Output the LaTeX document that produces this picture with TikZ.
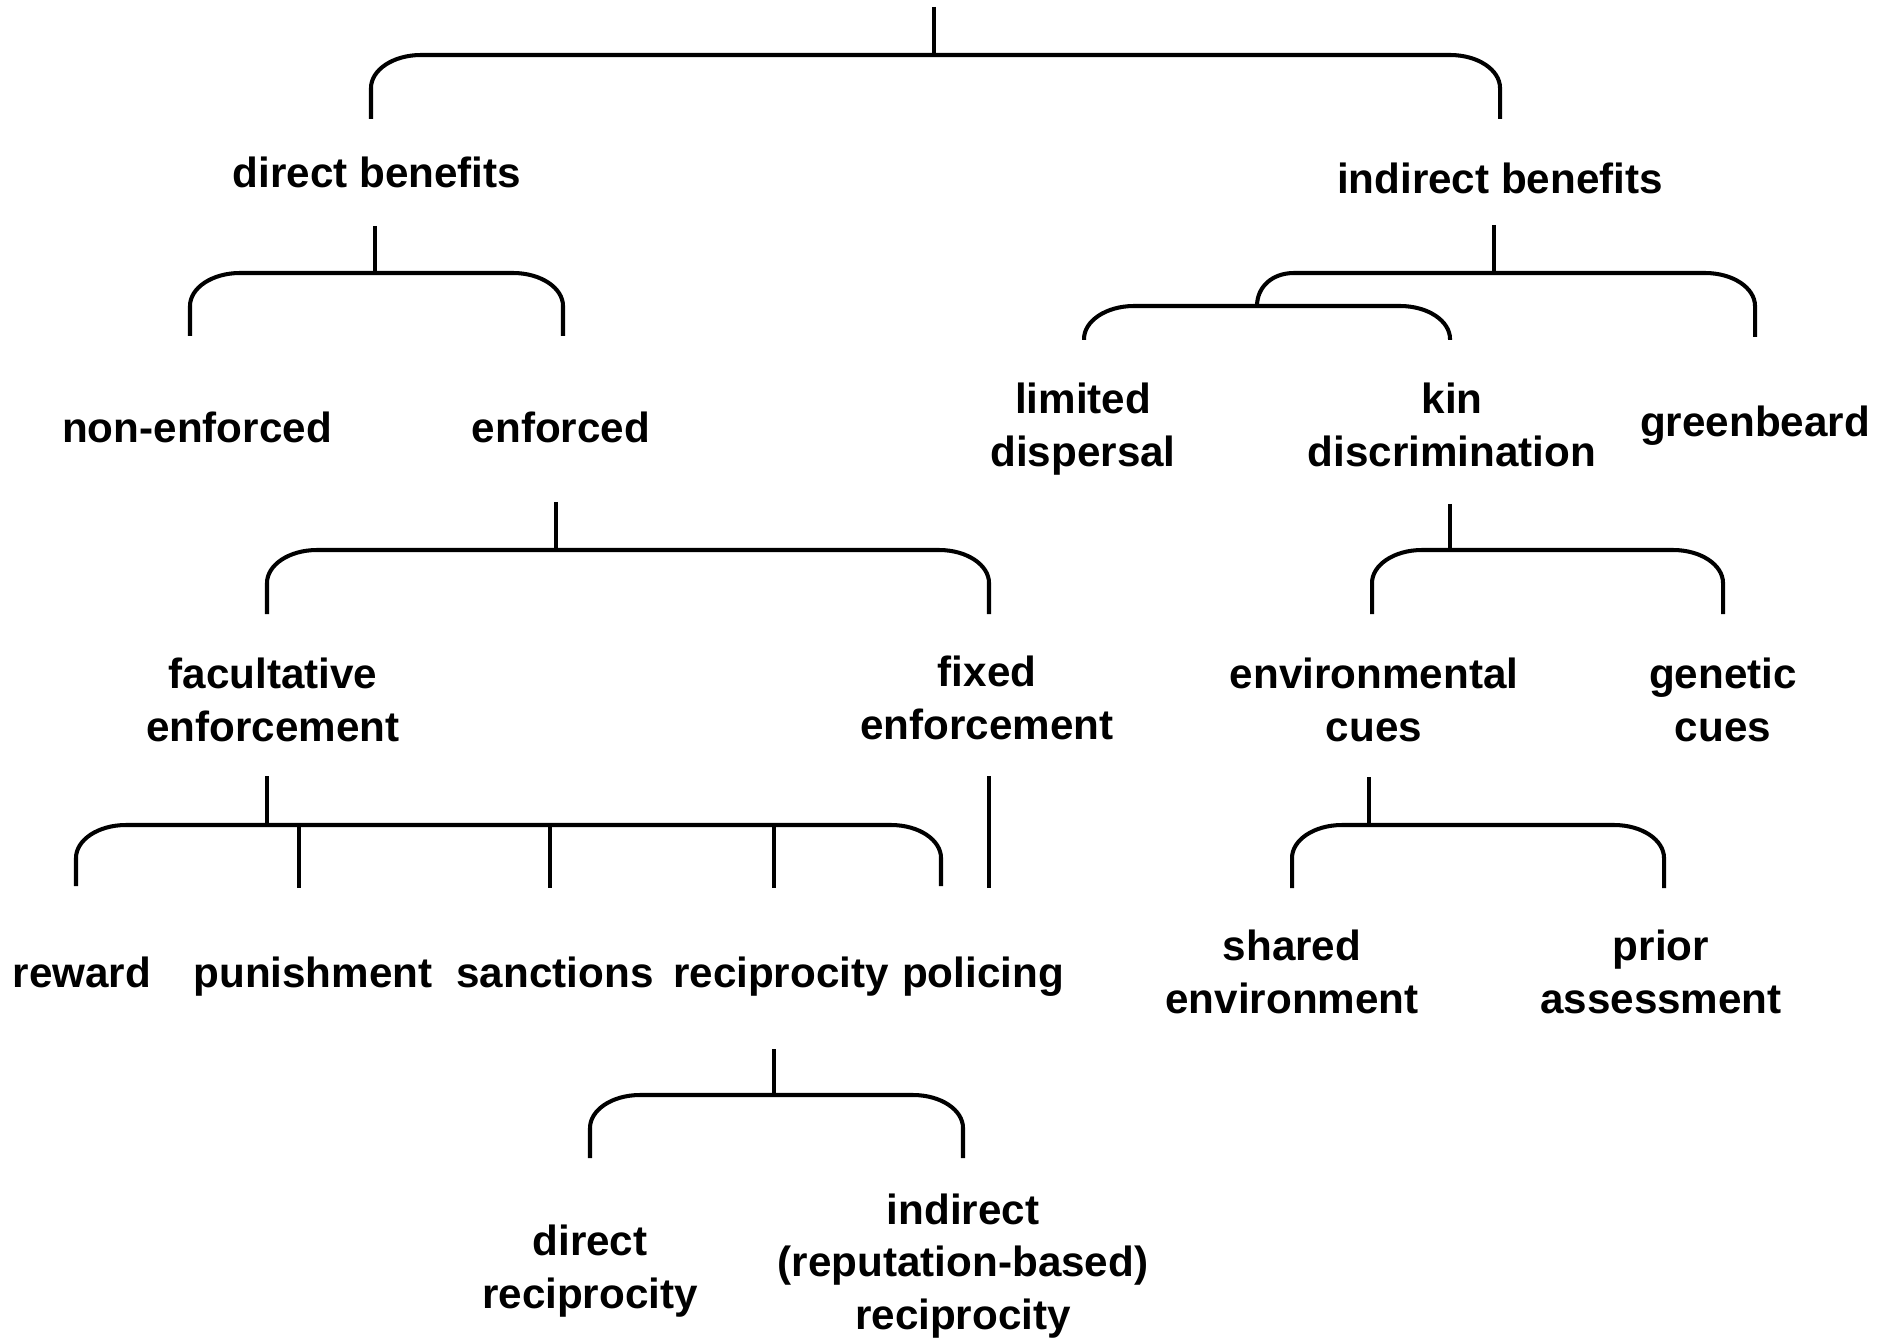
\documentclass[tikz,border=0pt]{standalone}
\usepackage{fontspec}
\setmainfont{Liberation Sans}
\begin{document}
\begin{tikzpicture}[x=0.01cm,y=-0.01cm]
\tikzset{
  conn/.style={line width=1pt},
  lbl/.style={align=center, anchor=base, inner sep=0pt,
              font=\bfseries\fontsize{12}{14.8}\selectfont}
}
% bracket: left x, right x, bar y, lower end y
\newcommand\forkbar[4]{%
  \draw[conn,line width=1.15pt] (#1,#4) -- (#1,#3+33) .. controls (#1,#3+15) and (#1+22,#3) .. (#1+50,#3)
    -- (#2-50,#3) .. controls (#2-22,#3) and (#2,#3+15) .. (#2,#3+33) -- (#2,#4);}
\useasboundingbox (0,0) rectangle (1895,1337);

% labels (anchor = baseline of the last line)
\node[lbl] (direct)   at (377,188)  {direct benefits};
\node[lbl] (indirect) at (1500,194) {indirect benefits};
\node[lbl] (nonenf)   at (197,443)  {non-enforced};
\node[lbl] (enf)      at (561,443)  {enforced};
\node[lbl] (limdisp)  at (1083,466) {limited\\dispersal};
\node[lbl] (kin)      at (1452,466) {kin\\discrimination};
\node[lbl] (green)    at (1755,436) {greenbeard};
\node[lbl] (facult)   at (273,741)  {facultative\\enforcement};
\node[lbl] (fixed)    at (987,739)  {fixed\\enforcement};
\node[lbl] (envcues)  at (1374,741) {environmental\\cues};
\node[lbl] (gencues)  at (1723,741) {genetic\\cues};
\node[lbl] (reward)   at (82,987)   {reward};
\node[lbl] (punish)   at (313,987)  {punishment};
\node[lbl] (sanct)    at (555,987)  {sanctions};
\node[lbl] (recip)    at (781,987)  {reciprocity};
\node[lbl] (policing) at (983,987)  {policing};
\node[lbl] (shared)   at (1292,1013) {shared\\environment};
\node[lbl] (prior)    at (1661,1013) {prior\\assessment};
\node[lbl] (dirrec)   at (590,1308) {direct\\reciprocity};
\node[lbl] (indrec)   at (963,1329) {indirect\\(reputation-based)\\reciprocity};

% stems
\coordinate (root)   at (934,7);
\coordinate (rootj)  at (934,55);
\draw[conn] (root) -- (rootj);
\coordinate (dbs) at (375,226);  \coordinate (dbj) at (375,273);
\draw[conn] (dbs) -- (dbj);
\coordinate (ibs) at (1494,225); \coordinate (ibj) at (1494,273);
\draw[conn] (ibs) -- (ibj);
\coordinate (ens) at (556,502);  \coordinate (enj) at (556,550);
\draw[conn] (ens) -- (enj);
\coordinate (kis) at (1450,504); \coordinate (kij) at (1450,550);
\draw[conn] (kis) -- (kij);
\coordinate (fas) at (267,776);  \coordinate (faj) at (267,825);
\draw[conn] (fas) -- (faj);
\coordinate (fis) at (989,776);  \coordinate (fie) at (989,888);
\draw[conn] (fis) -- (fie);
\coordinate (evs) at (1369,777); \coordinate (evj) at (1369,825);
\draw[conn] (evs) -- (evj);
\coordinate (res) at (774,1049); \coordinate (rej) at (774,1095);
\draw[conn] (res) -- (rej);

% inner branches of the facultative bar
\foreach \bx in {299,550,774} \draw[conn] (\bx,825) -- (\bx,888);

% brackets
\forkbar{371}{1500}{55}{119}
\forkbar{190}{563}{273}{336}
\forkbar{267}{989}{550}{614}
\forkbar{76}{941}{825}{886}
\forkbar{590}{963}{1095}{1158}
\forkbar{1084}{1450}{306}{340}
\forkbar{1372}{1723}{550}{614}
\forkbar{1292}{1664}{825}{888}
% upper right bar, springing from the limited/kin bar
\draw[conn,line width=1.15pt] (1257,306) .. controls (1257,287) and (1272,273) .. (1294,273)
  -- (1705,273) .. controls (1733,273) and (1755,288) .. (1755,306) -- (1755,337);
\end{tikzpicture}
\end{document}
